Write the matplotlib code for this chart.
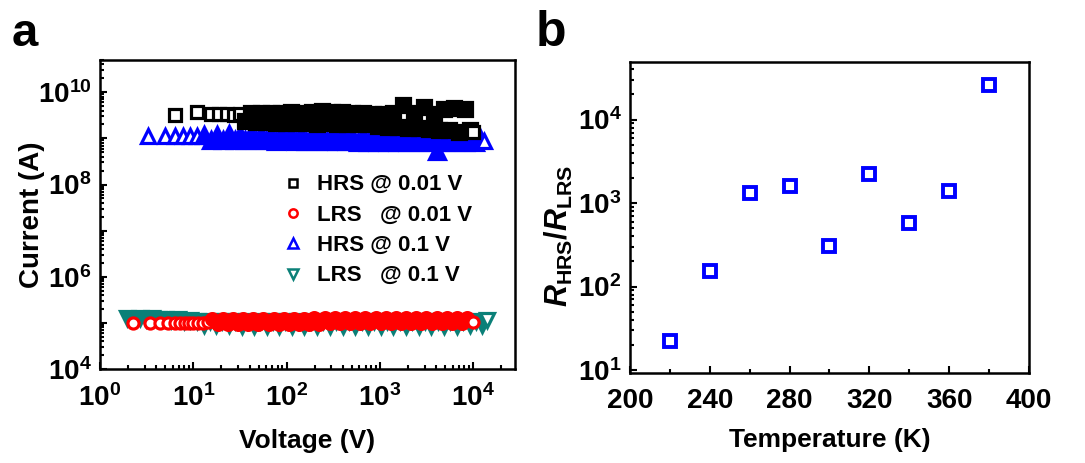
import matplotlib
matplotlib.use("Agg")
import matplotlib.pyplot as plt
from matplotlib.lines import Line2D
from matplotlib.ticker import LogLocator, NullFormatter, MultipleLocator

plt.rcParams['font.family'] = ['Liberation Sans', 'DejaVu Sans']
plt.rcParams['font.weight'] = 'bold'
plt.rcParams['mathtext.fontset'] = 'custom'
plt.rcParams['mathtext.rm'] = 'Liberation Sans:bold'
plt.rcParams['mathtext.it'] = 'Liberation Sans:italic:bold'
plt.rcParams['mathtext.bf'] = 'Liberation Sans:bold'

# ---- panel a: current vs voltage ----
hrs_001_v = [6.4, 10.9, 15.3, 19, 23, 27, 31.5, 36, 41, 47, 53, 60, 68, 77, 87, 99,
             112, 127, 144, 163, 185, 210, 238, 270, 306, 347, 393, 446, 506, 574,
             651, 738, 837, 949, 1076, 1220, 1384, 1570, 1780, 2020, 2290, 2600,
             2950, 3340, 3790, 4300, 4880, 5530, 6270, 7110, 8070, 9150, 10000]
hrs_001_i = [3.2e9, 3.7e9, 3.4e9, 3.3e9, 3.4e9, 3.2e9, 3.4e9, 2.4e9, 3.5e9, 2.3e9,
             3.6e9, 2.3e9, 3.5e9, 2.2e9, 3.6e9, 2.2e9, 3.7e9, 2.2e9, 3.6e9, 2.2e9,
             3.8e9, 2.1e9, 3.9e9, 2.2e9, 3.8e9, 2.1e9, 3.7e9, 2.1e9, 3.6e9, 2.0e9,
             3.5e9, 2.0e9, 3.4e9, 1.9e9, 3.4e9, 1.8e9, 3.5e9, 1.8e9, 5.2e9, 1.7e9,
             3.6e9, 1.7e9, 4.7e9, 1.6e9, 3.4e9, 1.5e9, 4.4e9, 1.5e9, 4.5e9, 1.4e9,
             4.3e9, 1.5e9, 1.35e9]

hrs_01_v = [3.3, 5.0, 6.4, 7.8, 9.2, 10.9, 13, 15.5, 18, 21, 24, 28, 32, 36, 41, 47,
            53, 60, 68, 77, 87, 99, 112, 127, 144, 163, 185, 210, 238, 270, 306, 347,
            393, 446, 506, 574, 651, 738, 837, 949, 1076, 1220, 1384, 1570, 1780,
            2020, 2290, 2600, 2950, 3340, 3790, 4100, 4880, 5530, 6270, 7110, 8070,
            9150, 10400, 11800, 13000]
hrs_01_i = [1.1e9, 1.1e9, 1.1e9, 1.1e9, 1.15e9, 1.15e9,
            1.2e9, 0.92e9, 1.2e9, 0.9e9, 1.22e9, 0.9e9, 1.2e9, 0.9e9, 1.22e9, 0.9e9,
            1.2e9, 0.9e9, 1.2e9, 0.88e9, 1.2e9, 0.9e9, 1.18e9, 0.88e9, 1.2e9, 0.88e9,
            1.18e9, 0.88e9, 1.15e9, 0.86e9, 1.15e9, 0.86e9, 1.15e9, 0.86e9, 1.12e9,
            0.85e9, 1.12e9, 0.85e9, 1.1e9, 0.85e9, 1.1e9, 0.84e9, 1.1e9, 0.84e9,
            1.08e9, 0.84e9, 1.08e9, 0.84e9, 1.08e9, 0.83e9, 1.05e9, 0.53e9,
            0.83e9, 1.05e9, 0.83e9, 1.05e9, 0.83e9, 1.02e9, 0.84e9, 1.0e9, 0.88e9]

lrs_001_v = [2.27, 3.43, 4.4, 5.4, 6.35, 7.2, 8.1, 9.0, 10, 11.2, 12.6, 14.2, 16,
             18.2, 20.6, 23.4, 26.5, 30, 34, 38.6, 43.8, 49.7, 56.3, 63.9, 72.4,
             82.1, 93.1, 105.6, 119.8, 135.8, 154, 174.6, 198, 224.6, 254.7, 288.8,
             327.5, 371.4, 421.2, 477.6, 541.6, 614.2, 696.5, 789.8, 895.6, 1015.6,
             1151.7, 1306, 1481, 1679.5, 1904.5, 2159.7, 2449, 2777, 3149, 3571,
             4050, 4592, 5208, 5905, 6697, 7594, 8612, 10000]
lrs_001_i = [1.0e5, 1.0e5, 1.0e5, 1.0e5, 1.0e5, 1.0e5, 1.0e5, 1.0e5, 1.0e5, 1.0e5,
             1.0e5, 1.02e5,
             1.2e5, 0.95e5, 1.22e5, 0.95e5, 1.22e5, 0.95e5, 1.22e5, 0.95e5, 1.22e5,
             0.95e5, 1.22e5, 0.95e5, 1.23e5, 0.95e5, 1.23e5, 0.96e5, 1.24e5, 0.96e5,
             1.24e5, 0.96e5, 1.25e5, 0.96e5, 1.25e5, 0.97e5, 1.25e5, 0.97e5, 1.26e5,
             0.97e5, 1.26e5, 0.97e5, 1.27e5, 0.97e5, 1.27e5, 0.98e5, 1.28e5, 0.98e5,
             1.28e5, 0.98e5, 1.28e5, 0.98e5, 1.3e5, 0.98e5, 1.3e5, 0.99e5, 1.3e5,
             0.99e5, 1.3e5, 1.0e5, 1.3e5, 1.0e5, 1.28e5, 1.07e5]

lrs_01_v = [1.95, 2.3, 2.7, 3.1, 3.6, 4.2, 5.0, 5.8, 6.8, 8.0, 9.3, 11, 13, 15, 17.5,
            20.5, 24, 28, 33, 38, 45, 52, 61, 71, 83, 97, 114, 133, 155, 182, 212,
            248, 290, 340, 397, 465, 543, 635, 743, 870, 1015, 1190, 1390, 1625,
            1900, 2220, 2600, 3040, 3560, 4160, 4870, 5690, 6660, 7790, 9110, 10660,
            12470, 14000]
lrs_01_i = [1.25e5, 1.22e5, 1.25e5, 1.2e5, 1.25e5, 1.2e5, 1.22e5, 1.15e5, 1.2e5,
            1.1e5, 1.15e5,
            1.1e5, 0.9e5, 1.1e5, 0.88e5, 1.1e5, 0.88e5, 1.1e5, 0.87e5, 1.1e5,
            0.87e5, 1.1e5, 0.87e5, 1.1e5, 0.86e5, 1.1e5, 0.86e5, 1.1e5, 0.86e5,
            1.1e5, 0.86e5, 1.1e5, 0.86e5, 1.1e5, 0.86e5, 1.1e5, 0.86e5, 1.1e5,
            0.86e5, 1.1e5, 0.86e5, 1.1e5, 0.86e5, 1.1e5, 0.86e5, 1.1e5, 0.86e5,
            1.1e5, 0.86e5, 1.1e5, 0.87e5, 1.1e5, 0.87e5, 1.1e5, 0.88e5, 1.1e5,
            0.9e5, 1.16e5]

legend_labels = ['HRS @ 0.01 V', 'LRS   @ 0.01 V', 'HRS @ 0.1 V', 'LRS   @ 0.1 V']

# ---- panel b: resistance ratio vs temperature ----
temperature = [220, 240, 260, 280, 300, 320, 340, 360, 380]
ratio = [22.4, 154, 1306, 1600, 308, 2220, 580, 1400, 25900]

BLACK, RED, BLUE, TEAL = 'black', '#ff0000', '#0000ff', '#0b8078'

fig = plt.figure(figsize=(10.85, 4.63), dpi=100)
ax_a = fig.add_axes([0.0922, 0.2030, 0.3825, 0.6674])
ax_b = fig.add_axes([0.5806, 0.1944, 0.3677, 0.6717])


def scatter(ax, v, i, marker, color, n_lead, ms_lead, ms_body, z):
    # sparse leading points are open (white filled), the dense body merges into a band
    ax.plot(v[:n_lead], i[:n_lead], ls='none', marker=marker, ms=ms_lead, mew=2.3,
            mec=color, mfc='white', zorder=z)
    ax.plot(v[n_lead:-1], i[n_lead:-1], ls='none', marker=marker, ms=ms_body,
            mew=2.3, mec=color, mfc=color, zorder=z)
    ax.plot(v[-1:], i[-1:], ls='none', marker=marker, ms=ms_lead, mew=2.3,
            mec=color, mfc='white', zorder=z)


scatter(ax_a, lrs_01_v, lrs_01_i, 'v', TEAL, 0, 9.5, 10, 2)
scatter(ax_a, hrs_01_v, hrs_01_i, '^', BLUE, 6, 9.5, 11, 3)
scatter(ax_a, hrs_001_v, hrs_001_i, 's', BLACK, 7, 8.5, 10, 4)
scatter(ax_a, lrs_001_v, lrs_001_i, 'o', RED, 12, 8.0, 8.5, 5)

ax_a.set_xscale('log')
ax_a.set_yscale('log')
ax_a.set_xlim(1, 2.8e4)
ax_a.set_ylim(1e4, 5e10)
ax_a.set_xticks([1, 10, 100, 1000, 10000])
ax_a.set_yticks([1e4, 1e5, 1e6, 1e7, 1e8, 1e9, 1e10])
ax_a.set_yticklabels(['$10^{4}$', '', '$10^{6}$', '', '$10^{8}$', '', '$10^{10}$'])
ax_a.xaxis.set_minor_locator(LogLocator(base=10, subs=range(2, 10), numticks=20))
ax_a.yaxis.set_minor_locator(LogLocator(base=10, subs=range(2, 10), numticks=20))
ax_a.xaxis.set_minor_formatter(NullFormatter())
ax_a.yaxis.set_minor_formatter(NullFormatter())
ax_a.set_xlabel('Voltage (V)', fontsize=19, fontweight='bold', labelpad=12)
ax_a.set_ylabel('Current (A)', fontsize=20, fontweight='bold', labelpad=-5)

handles = [
    Line2D([], [], ls='none', marker='s', ms=6, mew=1.8, mec=BLACK, mfc='white'),
    Line2D([], [], ls='none', marker='o', ms=6, mew=1.8, mec=RED, mfc='white'),
    Line2D([], [], ls='none', marker='^', ms=7, mew=1.8, mec=BLUE, mfc='white'),
    Line2D([], [], ls='none', marker='v', ms=7, mew=1.8, mec=TEAL, mfc='white'),
]
ax_a.legend(handles, legend_labels, loc='upper left', bbox_to_anchor=(0.437, 0.63),
            frameon=False, handlelength=1.0, handletextpad=0.6,
            labelspacing=0.42, borderpad=0, borderaxespad=0,
            prop={'weight': 'bold', 'size': 16})

ax_b.plot(temperature, ratio, ls='none', marker='s', ms=9, mew=2.8, mec=BLUE,
          mfc='white')
ax_b.set_yscale('log')
ax_b.set_xlim(200, 400)
ax_b.set_ylim(9.2, 4.9e4)
ax_b.set_xticks([200, 240, 280, 320, 360, 400])
ax_b.xaxis.set_minor_locator(MultipleLocator(20))
ax_b.set_yticks([10, 100, 1000, 10000])
ax_b.set_yticklabels(['$10^{1}$', '$10^{2}$', '$10^{3}$', '$10^{4}$'])
ax_b.yaxis.set_minor_locator(LogLocator(base=10, subs=range(2, 10), numticks=20))
ax_b.yaxis.set_minor_formatter(NullFormatter())
ax_b.set_xlabel('Temperature (K)', fontsize=19, fontweight='bold', labelpad=10)
ax_b.set_ylabel(r'$R_{\mathrm{HRS}}/R_{\mathrm{LRS}}$', fontsize=22, labelpad=2)
ax_b.yaxis.label.set_y(0.44)

for ax in (ax_a, ax_b):
    for s in ax.spines.values():
        s.set_linewidth(1.8)
    ax.tick_params(which='both', direction='in', top=False, right=False,
                   labelsize=20, width=1.5)
    ax.tick_params(which='major', length=5, pad=6)
    ax.tick_params(which='minor', length=3)
    ax.tick_params(axis='x', which='major', pad=11)
    for lab in ax.get_xticklabels() + ax.get_yticklabels():
        lab.set_fontweight('bold')

fig.text(0.011, 0.9, 'a', fontsize=34, fontweight='bold', va='baseline')
fig.text(0.494, 0.9, 'b', fontsize=36, fontweight='bold', va='baseline')

fig.savefig('out.png', dpi=100)
